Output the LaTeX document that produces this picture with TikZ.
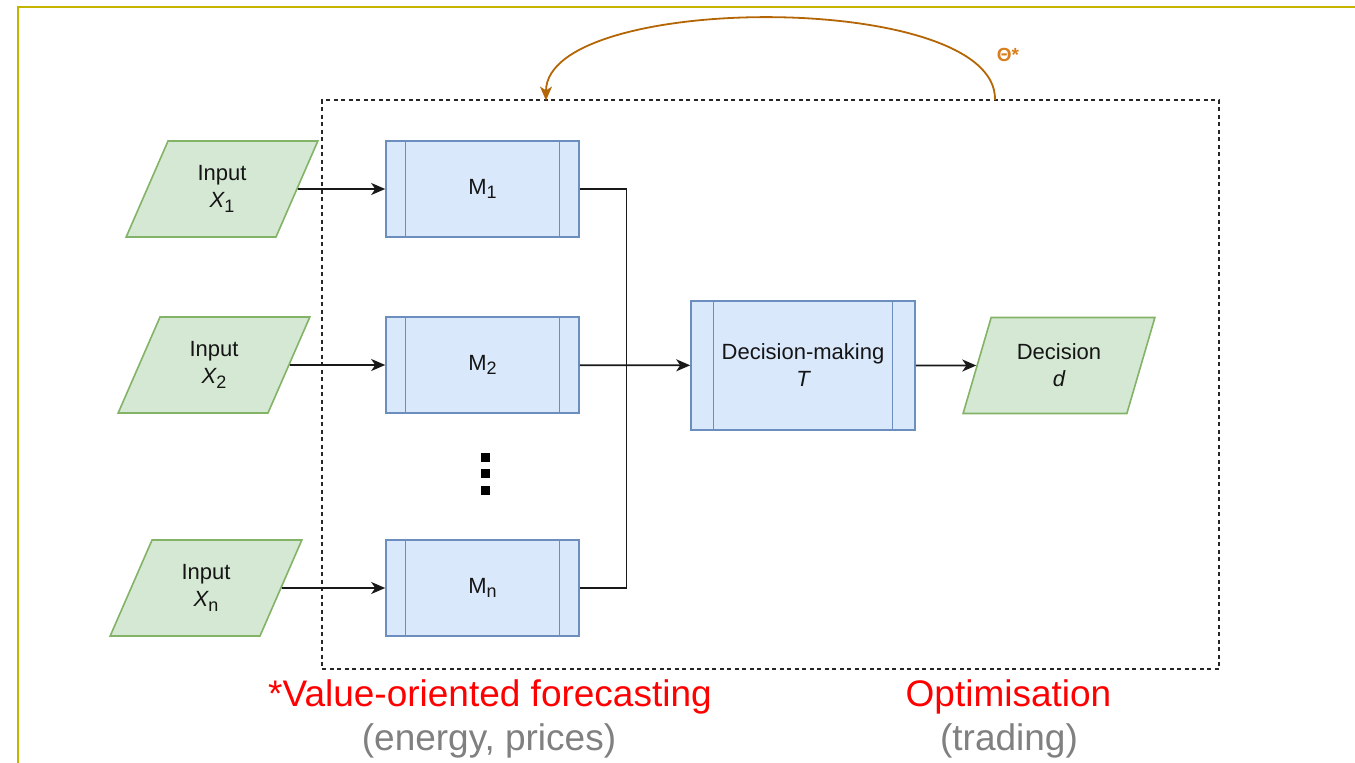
\documentclass[tikz,border=0pt]{standalone}
\usepackage{fontspec}
\setmainfont{Liberation Sans}
\usetikzlibrary{shapes.geometric,arrows.meta}
\definecolor{gfill}{HTML}{D5E8D4}
\definecolor{gline}{HTML}{82B366}
\definecolor{bfill}{HTML}{DAE8FC}
\definecolor{bline}{HTML}{6C8EBF}
\definecolor{curvec}{HTML}{B46504}
\definecolor{thetac}{HTML}{D97E1E}
\definecolor{framec}{RGB}{196,180,0}
\definecolor{txt}{HTML}{151515}
\definecolor{greytxt}{HTML}{808080}
\newcommand\mysub[1]{\raisebox{-0.22em}{\fontsize{18}{18}\selectfont #1}}
\begin{document}
\begin{tikzpicture}[x=1pt,y=-1pt,
  every node/.style={font=\fontsize{22}{27}\selectfont, text=txt},
  para/.style={trapezium, trapezium left angle=68, trapezium right angle=112,
    trapezium stretches=true, minimum width=192pt, minimum height=96pt,
    inner sep=0pt, draw=gline, fill=gfill, line width=1.6pt, align=center},
  procbox/.style={rectangle, draw=bline, fill=bfill, line width=1.6pt,
    align=center, inner sep=0pt,
    path picture={\draw[bline, line width=1.6pt]
      ([xshift=#1]path picture bounding box.north west) -- ([xshift=#1]path picture bounding box.south west)
      ([xshift=-#1]path picture bounding box.north east) -- ([xshift=-#1]path picture bounding box.south east);}},
  mbox/.style={procbox=19.5pt, minimum width=193pt, minimum height=96pt},
  link/.style={line width=1.7pt, black!90},
  arr/.style={link, -{Stealth[length=14pt,width=12pt,inset=4pt]}},
  dotsq/.style={fill=black, minimum size=9pt, inner sep=0pt},
  biglabel/.style={anchor=base, font=\fontsize{37}{44}\selectfont}
]
\useasboundingbox (0,0) rectangle (1355,763);
% outer frame (clipped by the page)
\begin{scope}
  \clip (0,0) rectangle (1355,763);
  \draw[framec, line width=2.2pt] (18,7) rectangle (1400,800);
\end{scope}

% dashed region
\node[draw=black!85, dash pattern=on 4pt off 3.5pt, line width=1.5pt,
  minimum width=897pt, minimum height=569pt, inner sep=0pt] (region) at (770.5,384.5) {};

% inputs
\node[para] (x1) at (222,189) {Input\\{\itshape X}\mysub{1}};
\node[para] (x2) at (214,365) {Input\\{\itshape X}\mysub{2}};
\node[para] (xn) at (206,588) {Input\\{\itshape X}\mysub{n}};

% models
\node[mbox] (m1) at (482.5,189) {M\mysub{1}};
\node[mbox] (m2) at (482.5,365) {M\mysub{2}};
\node[mbox] (mn) at (482.5,588) {M\mysub{n}};

% dots
\node[dotsq] (d1) at (485,457) {};
\node[dotsq] (d2) at (485,473.5) {};
\node[dotsq] (d3) at (485,490) {};

% decision making
\node[procbox=22.5pt, minimum width=224pt, minimum height=129pt] (dm) at (803,365.5) {Decision-making\\{\itshape T}};
\node[para] (dec) at (1059,365.5) {Decision\\{\itshape d}};

% connectors
\coordinate (join) at (626.5,365);
\draw[arr] (x1) -- (m1);
\draw[arr] (x2) -- (m2);
\draw[arr] (xn) -- (mn);
\draw[link] (m1.east) -| (join);
\draw[link] (mn.east) -| (join);
\draw[arr] (m2) -- (dm);
\draw[arr] (dm) -- (dec);

% feedback curve
\coordinate (cs) at (995,100);
\coordinate (ce) at (546,100.5);
\draw[curvec, line width=1.8pt, -{Stealth[length=14pt,width=12pt,inset=4pt]}]
  (cs) .. controls (998,-10) and (546,-8) .. (ce);
\node[text=thetac, font=\bfseries\fontsize{19}{21}\selectfont] (theta) at (1008,55) {Θ*};

% bottom labels
\node[biglabel, text=red] (vof) at (490,706.7) {*Value-oriented forecasting};
\node[biglabel, text=greytxt] (ep) at (489,750) {(energy, prices)};
\node[biglabel, text=red] (opt) at (1008.5,706.7) {Optimisation};
\node[biglabel, text=greytxt] (trd) at (1009,750) {(trading)};
\end{tikzpicture}
\end{document}
